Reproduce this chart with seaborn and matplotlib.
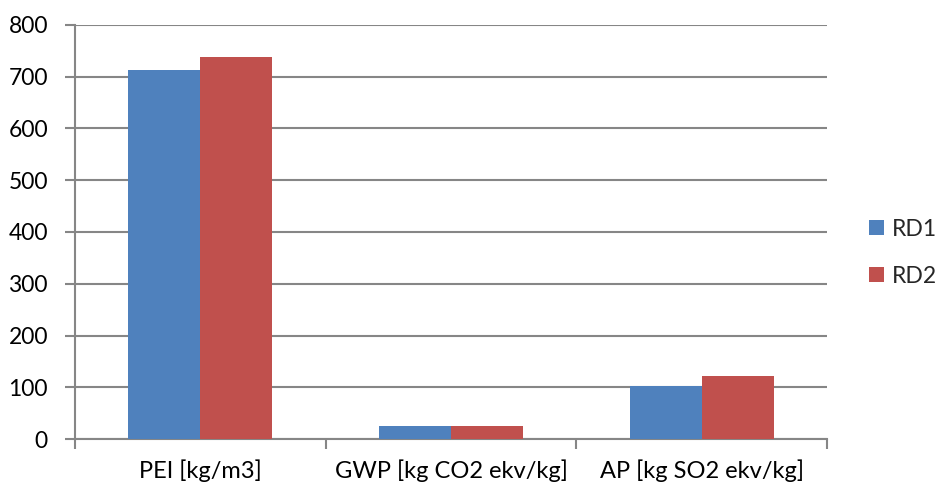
import matplotlib
matplotlib.use("Agg")
import matplotlib.pyplot as plt
import seaborn as sns
import pandas as pd
import numpy as np

categories = ["PEI [kg/m3]", "GWP [kg CO2 ekv/kg]", "AP [kg SO2 ekv/kg]"]
series_names = ["RD1", "RD2"]
rd1_values = [713, 25, 102]
rd2_values = [739, 26, 122]
y_ticks = [0, 100, 200, 300, 400, 500, 600, 700, 800]

df = pd.DataFrame({
    "category": categories * 2,
    "series": [series_names[0]] * 3 + [series_names[1]] * 3,
    "value": rd1_values + rd2_values,
})

sns.set_theme(style="white")
plt.rcParams["font.family"] = ["Lato", "DejaVu Sans"]

grid_color = "#868686"
fig = plt.figure(figsize=(9.38, 4.87), dpi=100)
ax = fig.add_axes([75 / 938, 1 - 439 / 487, (827 - 75) / 938, (439 - 25) / 487])

sns.barplot(data=df, x="category", y="value", hue="series",
            palette=["#4F81BD", "#C0504D"], width=0.575, dodge=True,
            saturation=1, errorbar=None, ax=ax, zorder=3, linewidth=0)

ax.set_xlim(-0.5, 2.5)
ax.set_ylim(0, 800)
ax.set_yticks(y_ticks)
ax.set_yticklabels([str(v) for v in y_ticks], fontsize=16.5, color="black")
ax.yaxis.grid(True, color=grid_color, linewidth=1.5, zorder=0)
ax.set_axisbelow(True)

ax.set_xticks(range(len(categories)))
ax.set_xticklabels(categories, fontsize=17, color="black")
ax.set_xticks([-0.5, 0.5, 1.5, 2.5], minor=True)
ax.tick_params(axis="x", which="major", length=0, pad=15)
ax.tick_params(axis="x", which="minor", length=7, width=1.5, color=grid_color, bottom=True)
ax.tick_params(axis="y", length=7, width=1.5, color=grid_color, left=True, pad=12.5)

for side in ["top", "right"]:
    ax.spines[side].set_visible(False)
for side in ["left", "bottom"]:
    ax.spines[side].set_color(grid_color)
    ax.spines[side].set_linewidth(1.5)

ax.set_xlabel("")
ax.set_ylabel("")

leg = ax.legend(loc="center left", bbox_to_anchor=(1.028, 0.45), frameon=False,
                fontsize=16.5, handlelength=0.65, handleheight=0.65,
                handletextpad=0.35, labelspacing=1.15)

fig.savefig("out.png", dpi=100)
